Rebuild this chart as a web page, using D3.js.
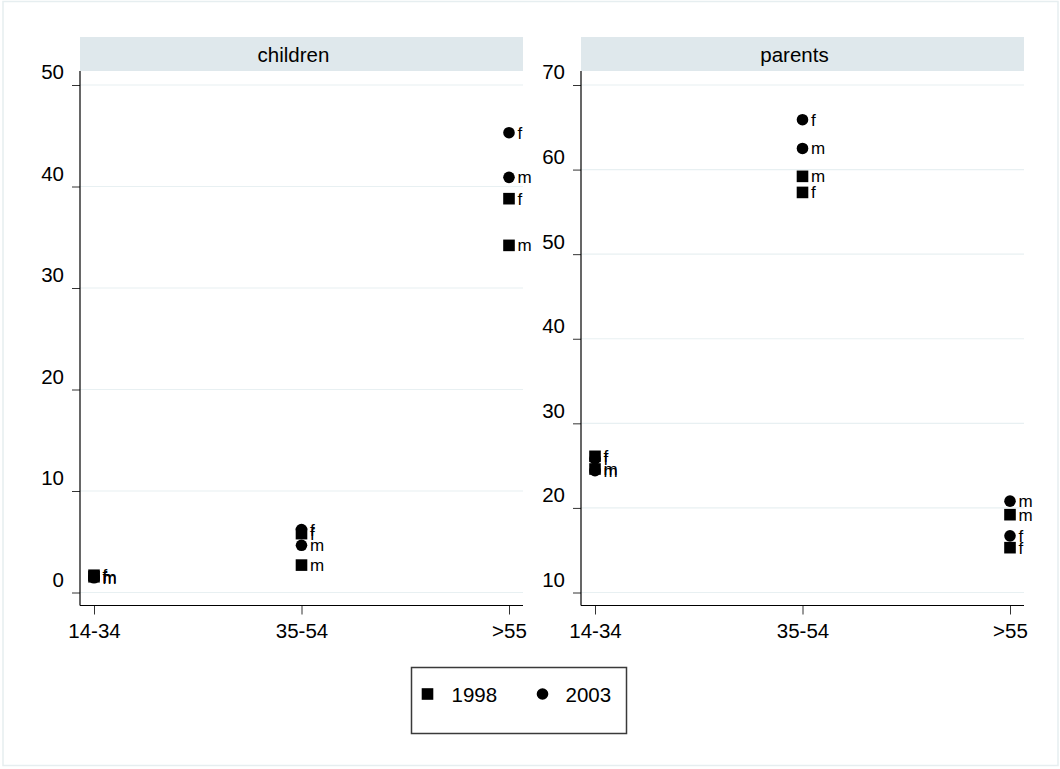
<!DOCTYPE html>
<html>
<head>
<meta charset="utf-8">
<script src="https://cdn.jsdelivr.net/npm/d3@7"></script>
<style>
  html, body { margin: 0; padding: 0; background: #ffffff; }
  svg text { font-family: "Liberation Sans", Arial, sans-serif; fill: #000; }
</style>
</head>
<body>
<svg id="chart" width="1060" height="769"></svg>
<script>
// Age groups on the x axis
const ageGroups = ["14-34", "35-54", ">55"];

// Panel names
const panelNames = ["children", "parents"];

// Y-axis tick values per panel
const childrenTicks = [0, 10, 20, 30, 40, 50];
const parentsTicks = [10, 20, 30, 40, 50, 60, 70];

// Survey years shown in the legend
const years = ["1998", "2003"];

// Percentages by age group: children panel
const children1998f = [1.7, 5.8, 38.8];
const children1998m = [1.55, 2.7, 34.2];
const children2003f = [1.5, 6.2, 45.3];
const children2003m = [1.45, 4.65, 40.9];

// Percentages by age group: parents panel
const parents1998f = [26.1, 57.3, 15.3];
const parents1998m = [24.6, 59.2, 19.2];
const parents2003f = [25.8, 65.9, 16.7];
const parents2003m = [24.4, 62.5, 20.8];

// Assemble long-format records from the arrays above
function records(year, sex, values) {
  return values.map((v, i) => ({ year, sex, age: ageGroups[i], value: v }));
}
const panels = [
  {
    name: panelNames[0],
    ticks: childrenTicks,
    domain: [0, 50],
    left: 80, right: 523,
    points: [].concat(
      records("1998", "f", children1998f), records("1998", "m", children1998m),
      records("2003", "f", children2003f), records("2003", "m", children2003m))
  },
  {
    name: panelNames[1],
    ticks: parentsTicks,
    domain: [10, 70],
    left: 581, right: 1024,
    points: [].concat(
      records("1998", "f", parents1998f), records("1998", "m", parents1998m),
      records("2003", "f", parents2003f), records("2003", "m", parents2003m))
  }
];

const svg = d3.select("#chart");
const stripTop = 37, stripBottom = 71;
const yTop = 85, yBottom = 592.5, axisY = 605.5;
const bigFont = "20.5px", smallFont = "17px";
const sq = 11.6, rad = 5.8;

// Outer frame of the graph region
svg.append("rect")
  .attr("x", 3).attr("y", 1.5).attr("width", 1055).attr("height", 764)
  .attr("fill", "#ffffff").attr("stroke", "#e6eef0").attr("stroke-width", 1.5);

function drawMarker(g, year, cx, cy) {
  if (year === "1998") {
    g.append("rect").attr("x", cx - sq / 2).attr("y", cy - sq / 2)
      .attr("width", sq).attr("height", sq).attr("fill", "#000");
  } else {
    g.append("circle").attr("cx", cx).attr("cy", cy).attr("r", rad).attr("fill", "#000");
  }
}

panels.forEach(p => {
  const g = svg.append("g");
  const x = d3.scalePoint().domain(ageGroups).range([p.left + 14, p.right - 14]);
  const y = d3.scaleLinear().domain(p.domain).range([yBottom, yTop]);

  // Strip with the panel title
  g.append("rect").attr("x", p.left).attr("y", stripTop)
    .attr("width", p.right - p.left).attr("height", stripBottom - stripTop)
    .attr("fill", "#dfe8ec");
  g.append("text").attr("x", (p.left + p.right) / 2 - 8).attr("y", 62)
    .attr("text-anchor", "middle").style("font-size", bigFont).text(p.name);

  // Horizontal grid lines
  g.selectAll(".grid").data(p.ticks).enter().append("line")
    .attr("x1", p.left).attr("x2", p.right)
    .attr("y1", d => y(d)).attr("y2", d => y(d))
    .attr("stroke", "#e8f0f2").attr("stroke-width", 1.2);

  // Y axis
  const yAxis = d3.axisLeft(y).tickValues(p.ticks).tickSize(8).tickPadding(8).tickFormat(d3.format("d"));
  const ya = g.append("g").attr("transform", `translate(${p.left},0)`).call(yAxis);
  ya.select(".domain").remove();
  ya.selectAll(".tick line").attr("stroke", "#333");
  ya.selectAll(".tick text").attr("dy", "-0.3em")
    .style("font-size", bigFont).style("font-family", "Liberation Sans, Arial, sans-serif").attr("fill", "#000");
  g.append("line").attr("x1", p.left).attr("x2", p.left)
    .attr("y1", stripBottom).attr("y2", axisY).attr("stroke", "#000").attr("stroke-width", 1.2);

  // X axis
  const xAxis = d3.axisBottom(x).tickSize(9).tickPadding(8);
  const xa = g.append("g").attr("transform", `translate(0,${axisY})`).call(xAxis);
  xa.select(".domain").remove();
  xa.selectAll(".tick line").attr("stroke", "#333");
  xa.selectAll(".tick text").attr("dy", "0.75em")
    .style("font-size", bigFont).style("font-family", "Liberation Sans, Arial, sans-serif").attr("fill", "#000");
  g.append("line").attr("x1", p.left).attr("x2", p.right)
    .attr("y1", axisY).attr("y2", axisY).attr("stroke", "#000").attr("stroke-width", 1.2);

  // Points with sex labels: 1998 first, 2003 on top
  years.forEach(yr => {
    p.points.filter(d => d.year === yr).forEach(d => {
      const cx = x(d.age), cy = y(d.value);
      drawMarker(g, yr, cx, cy);
      g.append("text").attr("x", cx + 8.5).attr("y", cy + 6)
        .style("font-size", smallFont).text(d.sex);
    });
  });
});

// Legend
const lg = svg.append("g");
lg.append("rect").attr("x", 411.5).attr("y", 667.5).attr("width", 215).attr("height", 66)
  .attr("fill", "#fff").attr("stroke", "#3a3a3a").attr("stroke-width", 1.5);
const legendItems = [
  { year: years[0], mx: 427.5, tx: 451.5 },
  { year: years[1], mx: 542.5, tx: 565.5 }
];
legendItems.forEach(it => {
  drawMarker(lg, it.year, it.mx, 694);
  lg.append("text").attr("x", it.tx).attr("y", 701.5).style("font-size", bigFont).text(it.year);
});
</script>
</body>
</html>
